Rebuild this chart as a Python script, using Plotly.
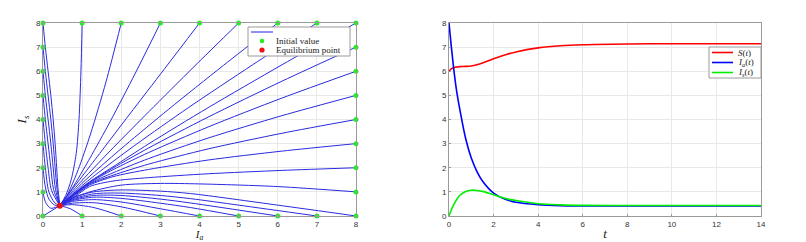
import plotly.graph_objects as go

# ---------------- Left panel: phase portrait (Ia, Is) ----------------
eq_ia = [0.43]
eq_is = [0.43]

init_ia = [0, 1, 2, 3, 4, 5, 6, 7, 8,
           8, 8, 8, 8, 8, 8, 8, 8,
           0, 1, 2, 3, 4, 5, 6, 7,
           0, 0, 0, 0, 0, 0, 0]
init_is = [8, 8, 8, 8, 8, 8, 8, 8, 8,
           0, 1, 2, 3, 4, 5, 6, 7,
           0, 0, 0, 0, 0, 0, 0, 0,
           1, 2, 3, 4, 5, 6, 7]

# trajectories starting on the left edge (Ia = 0)
left_ia = [
    [0, 0.06, 0.13, 0.20, 0.26, 0.31, 0.35, 0.38, 0.43],
    [0, 0.06, 0.13, 0.20, 0.26, 0.31, 0.36, 0.43],
    [0, 0.06, 0.13, 0.20, 0.26, 0.32, 0.43],
    [0, 0.06, 0.13, 0.20, 0.27, 0.43],
    [0, 0.06, 0.13, 0.22, 0.43],
    [0, 0.06, 0.15, 0.30, 0.43],
    [0, 0.06, 0.15, 0.30, 0.43],
    [0, 0.07, 0.20, 0.35, 0.43],
    [0, 0.43],
]
left_is = [
    [8, 7, 6, 5, 4, 3, 2, 1.2, 0.43],
    [7, 6, 5, 4, 3, 2, 1.1, 0.43],
    [6, 5, 4, 3, 2, 1.1, 0.43],
    [5, 4, 3, 2, 1.1, 0.43],
    [4, 3, 2, 1.05, 0.43],
    [3, 2, 1.0, 0.55, 0.43],
    [2, 1.2, 0.7, 0.45, 0.43],
    [1, 0.55, 0.32, 0.38, 0.43],
    [0, 0.43],
]

# trajectories starting on the top edge (Is = 8)
top_ia = [
    [1, 0.97, 0.92, 0.85, 0.72, 0.58, 0.43],
    [2, 1.61, 1.215, 0.90, 0.71, 0.587, 0.51, 0.43],
    [3, 2.36, 1.715, 1.20, 0.89, 0.687, 0.56, 0.43],
    [4, 3.11, 2.215, 1.50, 1.07, 0.787, 0.61, 0.43],
    [5, 3.86, 2.715, 1.80, 1.25, 0.887, 0.66, 0.43],
    [6, 4.61, 3.215, 2.10, 1.43, 0.987, 0.71, 0.43],
    [7, 5.36, 3.715, 2.40, 1.61, 1.087, 0.76, 0.43],
    [8, 6.11, 4.22, 2.70, 1.79, 1.19, 0.81, 0.43],
]
top_is = [
    [8, 6, 4, 2.6, 1.5, 0.85, 0.43],
    [8, 5.56, 3.40, 1.92, 1.18, 0.77, 0.60, 0.43],
    [8, 5.92, 3.91, 2.40, 1.53, 1.00, 0.72, 0.43],
    [8, 6.11, 4.22, 2.70, 1.79, 1.19, 0.81, 0.43],
    [8, 6.19, 4.34, 2.84, 1.91, 1.28, 0.85, 0.43],
    [8, 6.24, 4.43, 2.93, 1.99, 1.34, 0.88, 0.43],
    [8, 6.27, 4.49, 2.99, 2.04, 1.38, 0.91, 0.43],
    [8, 6.27, 4.49, 2.99, 2.04, 1.42, 0.95, 0.43],
]

# trajectories starting on the right edge (Ia = 8)
right_ia = [
    [8, 6, 4, 3, 2, 1.2, 0.7, 0.43],
    [8, 6.11, 4.22, 2.70, 1.79, 1.19, 0.81, 0.43],
    [8, 6.11, 4.22, 2.70, 1.79, 1.19, 0.81, 0.43],
    [8, 6.11, 4.22, 2.70, 1.79, 1.19, 0.81, 0.43],
    [8, 6.11, 4.22, 2.70, 1.79, 1.19, 0.81, 0.43],
    [8, 6.11, 4.22, 2.70, 1.79, 1.19, 0.81, 0.43],
    [8, 6.11, 4.22, 2.70, 1.79, 1.19, 0.81, 0.43],
]
right_is = [
    [1, 1.22, 1.33, 1.35, 1.28, 1.0, 0.7, 0.43],
    [2, 1.89, 1.75, 1.59, 1.45, 1.22, 0.80, 0.43],
    [3, 2.69, 2.32, 1.93, 1.63, 1.28, 0.85, 0.43],
    [4, 3.43, 2.78, 2.15, 1.69, 1.32, 0.88, 0.43],
    [5, 4.16, 3.23, 2.38, 1.79, 1.35, 0.90, 0.43],
    [6, 4.89, 3.69, 2.63, 1.92, 1.38, 0.92, 0.43],
    [7, 5.59, 4.10, 2.82, 1.99, 1.40, 0.93, 0.43],
]

# trajectories starting on the bottom edge (Is = 0)
bottom_ia = [
    [1, 0.7, 0.43],
    [2, 1.3, 0.75, 0.43],
    [3, 2, 1.3, 0.75, 0.43],
    [4, 3, 2, 1.3, 0.75, 0.43],
    [5, 3.77, 3, 2, 1.3, 0.75, 0.43],
    [6, 3.77, 3, 2, 1.3, 0.75, 0.43],
    [7, 5, 3.77, 3, 2, 1.3, 0.75, 0.43],
    [8, 6, 3.77, 3, 2, 1.3, 0.75, 0.43],
]
bottom_is = [
    [0, 0.30, 0.43],
    [0, 0.35, 0.47, 0.43],
    [0, 0.38, 0.55, 0.53, 0.43],
    [0, 0.30, 0.58, 0.68, 0.60, 0.43],
    [0, 0.35, 0.53, 0.73, 0.78, 0.64, 0.43],
    [0, 0.54, 0.70, 0.85, 0.85, 0.67, 0.43],
    [0, 0.45, 0.72, 0.85, 0.95, 0.92, 0.70, 0.43],
    [0, 0.45, 0.93, 1.03, 1.08, 1.00, 0.75, 0.43],
]

# ---------------- Right panel: time series ----------------
t_vals = [0, 0.1, 0.2, 0.3, 0.4, 0.5, 0.75, 1, 1.25, 1.5, 2, 2.5, 3, 4, 5, 6, 8, 10, 12, 14]
S_vals = [6.0, 6.1, 6.15, 6.17, 6.18, 6.19, 6.2, 6.22, 6.27, 6.34, 6.52, 6.67, 6.8, 6.97,
          7.06, 7.1, 7.13, 7.14, 7.14, 7.14]
Ia_vals = [8.0, 7.05, 6.2, 5.45, 4.85, 4.35, 3.2, 2.4, 1.85, 1.45, 0.95, 0.7, 0.57, 0.47,
           0.43, 0.42, 0.415, 0.415, 0.415, 0.415]
Is_vals = [0.0, 0.25, 0.45, 0.62, 0.76, 0.87, 1.02, 1.07, 1.06, 1.02, 0.88, 0.74, 0.64, 0.51,
           0.46, 0.44, 0.435, 0.435, 0.435, 0.435]

ticks_0_8 = [0, 1, 2, 3, 4, 5, 6, 7, 8]
ticks_t = [0, 2, 4, 6, 8, 10, 12, 14]

# legend labels
left_legend_labels = ["", "Initial value", "Equilibrium point"]
right_legend_labels = ["<i>S</i>(<i>t</i>)", "<i>I<sub>a</sub></i>(<i>t</i>)", "<i>I<sub>s</sub></i>(<i>t</i>)"]

TRAJ_COLOR = "#2a2ae0"
GREEN = "#22ee22"
RED = "#ee1111"
fig = go.Figure()

for xs_set, ys_set in [(left_ia, left_is), (top_ia, top_is), (right_ia, right_is), (bottom_ia, bottom_is)]:
    for xs, ys in zip(xs_set, ys_set):
        fig.add_trace(go.Scatter(
            x=xs, y=ys, mode="lines",
            line=dict(color=TRAJ_COLOR, width=1, shape="spline", smoothing=0.8),
            showlegend=False, xaxis="x", yaxis="y", hoverinfo="skip"))

fig.add_trace(go.Scatter(
    x=init_ia, y=init_is, mode="markers",
    marker=dict(color=GREEN, size=5), name=left_legend_labels[1], showlegend=False,
    xaxis="x", yaxis="y", cliponaxis=False))
fig.add_trace(go.Scatter(
    x=eq_ia, y=eq_is, mode="markers",
    marker=dict(color=RED, size=6), name=left_legend_labels[2], showlegend=False,
    xaxis="x", yaxis="y", cliponaxis=False))

series_colors = ["#ff0000", "#0000ff", "#00ee00"]
for vals, name, col in zip([S_vals, Ia_vals, Is_vals], right_legend_labels, series_colors):
    fig.add_trace(go.Scatter(
        x=t_vals, y=vals, mode="lines", line=dict(color=col, width=1.6, shape="spline"),
        name=name, showlegend=False, xaxis="x2", yaxis="y2"))

W, H = 806, 242
ML, MR, MT, MB = 43, 45, 23, 26
PW = W - ML - MR


def px_x(px):
    return (px - ML) / PW


def px_y(py):
    return (H - MB - py) / (H - MT - MB)


ax_common = dict(
    showgrid=True, gridcolor="#e8e8e8", gridwidth=1,
    showline=True, linecolor="#9a9a9a", linewidth=1, mirror=True,
    zeroline=False, ticks="inside", ticklen=2, tickcolor="#9a9a9a", automargin=False,
    tickfont=dict(family="Liberation Sans, Arial, sans-serif", size=8, color="#333333"),
)
title_font = dict(family="Liberation Serif, Times New Roman, serif", size=13, color="#222222")
xtitle_font = dict(family="Liberation Serif, Times New Roman, serif", size=11, color="#222222")
legend_font = dict(family="Liberation Serif, Times New Roman, serif", size=9, color="#222222")

shapes = []
annotations = []

# left legend box
shapes.append(dict(type="rect", xref="paper", yref="paper",
                   x0=px_x(248), x1=px_x(350), y0=px_y(56), y1=px_y(27),
                   fillcolor="white", line=dict(color="#9a9a9a", width=1), layer="above"))
shapes.append(dict(type="line", xref="paper", yref="paper",
                   x0=px_x(251), x1=px_x(273), y0=px_y(32), y1=px_y(32),
                   line=dict(color="#6a6aee", width=1.5), layer="above"))
for cy, col, r in [(41, GREEN, 2.3), (50, RED, 2.6)]:
    shapes.append(dict(type="circle", xref="paper", yref="paper",
                       x0=px_x(262 - r), x1=px_x(262 + r), y0=px_y(cy + r), y1=px_y(cy - r),
                       fillcolor=col, line=dict(color=col, width=0), layer="above"))
for cy, txt in [(41, left_legend_labels[1]), (50, left_legend_labels[2])]:
    annotations.append(dict(xref="paper", yref="paper", x=px_x(274), y=px_y(cy),
                            xanchor="left", yanchor="middle", text=txt, showarrow=False,
                            font=legend_font))

# right legend box
shapes.append(dict(type="rect", xref="paper", yref="paper",
                   x0=px_x(709), x1=px_x(761), y0=px_y(78), y1=px_y(47),
                   fillcolor="white", line=dict(color="#9a9a9a", width=1), layer="above"))
for cy, txt, col in zip([52.5, 62.5, 72.5], right_legend_labels, series_colors):
    shapes.append(dict(type="line", xref="paper", yref="paper",
                       x0=px_x(712), x1=px_x(733), y0=px_y(cy), y1=px_y(cy),
                       line=dict(color=col, width=1.6), layer="above"))
    annotations.append(dict(xref="paper", yref="paper", x=px_x(736), y=px_y(cy),
                            xanchor="left", yanchor="middle", text=txt, showarrow=False,
                            font=legend_font))

fig.update_layout(
    width=W, height=H,
    margin=dict(l=ML, r=MR, t=MT, b=MB, autoexpand=False),
    paper_bgcolor="white", plot_bgcolor="white",
    showlegend=False,
    xaxis=dict(domain=[0, px_x(356)], range=[0, 8], tickvals=ticks_0_8,
               title=dict(text="<i>I<sub>a</sub></i>", font=xtitle_font, standoff=4),
               anchor="y", **ax_common),
    yaxis=dict(domain=[0, 1], range=[0, 8], tickvals=ticks_0_8,
               title=dict(text="<i>I<sub>s</sub></i>", font=title_font, standoff=6),
               anchor="x", **ax_common),
    xaxis2=dict(domain=[px_x(449), 1], range=[0, 14], tickvals=ticks_t,
                title=dict(text="<i>t</i>", font=title_font, standoff=1),
                anchor="y2", **ax_common),
    yaxis2=dict(domain=[0, 1], range=[0, 8], tickvals=ticks_0_8,
                anchor="x2", **ax_common),
    shapes=shapes,
    annotations=annotations,
)

fig.write_html("out.html", config={"displayModeBar": False},
               post_script="document.body.style.margin='0';document.body.style.overflow='hidden';")
